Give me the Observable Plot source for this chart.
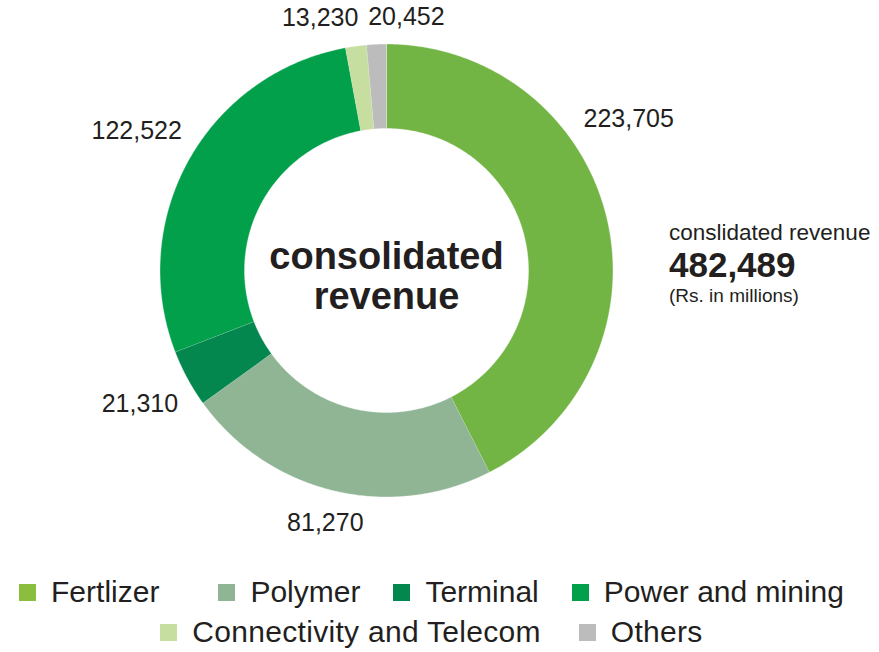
<!DOCTYPE html>
<html>
<head>
<meta charset="utf-8">
<script src="https://cdn.jsdelivr.net/npm/d3@7"></script>
<script src="https://cdn.jsdelivr.net/npm/@observablehq/plot@0.6"></script>
<style>
  html, body { margin: 0; padding: 0; background: #fff; }
  body { font-family: "Liberation Sans", Arial, sans-serif; color: #231f20; }
  #wrap { position: relative; width: 879px; height: 652px; overflow: hidden; }
  #chart { position: absolute; left: 0; top: 0; }
  .note { position: absolute; left: 669px; white-space: nowrap; line-height: 1; color: #231f20; }
  .legend-row { position: absolute; left: 0; width: 863px; display: flex; justify-content: center;
                font-size: 30px; line-height: 30px; color: #231f20; }
  .item { display: flex; align-items: center; margin-right: 33px; }
  .item:last-child { margin-right: 0; }
  .item.wide { margin-right: 59px; }
  .row2 .item { margin-right: 38px; }
  .row2 .item:last-child { margin-right: 0; }
  .row2 span.tx { letter-spacing: 0.3px; }
  .sw { width: 17px; height: 17px; margin-right: 15px; flex: none; }
</style>
</head>
<body>
<div id="wrap"><div id="chart"></div></div>
<script>
// ---------------- data ----------------
const segments = ["Fertlizer", "Polymer", "Terminal", "Power and mining", "Connectivity and Telecom", "Others"];
const revenue  = [223705, 81270, 21310, 122522, 13230, 20452];          // Rs. in millions (labels)
const arcShare = [42.5, 22.55, 4.1, 27.95, 1.5, 1.4];                    // share of the ring as drawn (%)
const colors   = ["#72b545", "#8fb594", "#03874f", "#02a04b", "#c6de9f", "#bcbcbc"];
const legendColors = ["#8bbe3f", "#8fb594", "#03874f", "#02a04b", "#c6de9f", "#bcbcbc"];
const centerTitle = ["consolidated", "revenue"];
const noteTitle = "conslidated revenue";
const noteUnit  = "(Rs. in millions)";
const legendRows = [[0, 1, 2, 3], [4, 5]];

// ---------------- layout ----------------
const W = 879, H = 560;
const R = 226.5, cx = 386, cy = 270;     // ring centre and outer radius (px)
const innerRatio = 142 / 226.5;
const fmt = d3.format(",");
const labelFont = 25, labelGap = 16, labelPad = 6;

// slices (angles clockwise from 12 o'clock)
const shareTotal = d3.sum(arcShare);
let acc = 0;
const slices = segments.map((name, i) => {
  const a0 = acc / shareTotal * 360; acc += arcShare[i];
  const a1 = acc / shareTotal * 360;
  return {name, value: revenue[i], a0, a1, mid: (a0 + a1) / 2};
});

// ring polygons in unit coordinates
const rad = a => a * Math.PI / 180;
const ring = slices.flatMap(s => {
  const n = Math.max(2, Math.ceil((s.a1 - s.a0) / 0.5));
  const pts = [];
  for (let k = 0; k <= n; k++) {
    const a = rad(s.a0 + (s.a1 - s.a0) * k / n);
    pts.push({name: s.name, x: Math.sin(a), y: Math.cos(a)});
  }
  for (let k = n; k >= 0; k--) {
    const a = rad(s.a0 + (s.a1 - s.a0) * k / n);
    pts.push({name: s.name, x: innerRatio * Math.sin(a), y: innerRatio * Math.cos(a)});
  }
  return pts;
});

// value labels: mid-angle placement, then nudged apart to avoid overlaps
const ctx = document.createElement("canvas").getContext("2d");
ctx.font = `${labelFont}px "Liberation Sans"`;
const textH = 0.72 * labelFont;
const labels = slices.map(s => ({...s, ang: s.mid, text: fmt(s.value), w: ctx.measureText(fmt(s.value)).width}));
function place(l) {
  const t = rad(l.ang);
  const half = Math.abs(Math.sin(t)) * l.w / 2 + Math.abs(Math.cos(t)) * textH / 2;
  const d = R + labelGap + half;
  l.px = cx + d * Math.sin(t); l.py = cy - d * Math.cos(t);
  l.box = [l.px - l.w / 2, l.py - textH / 2, l.px + l.w / 2, l.py + textH / 2];
}
const overlap = (a, b, p) => a[0] < b[2] + p && b[0] < a[2] + p && a[1] < b[3] + p && b[1] < a[3] + p;
// side note block, kept clear by one block-height of white space above and below
const noteBlock = [669, 218, 879, 308];
const noteH = noteBlock[3] - noteBlock[1];
const noteZone = [noteBlock[0], noteBlock[1] - noteH, noteBlock[2], noteBlock[3] + noteH];
const noteAng = Math.atan2((noteBlock[0] + noteBlock[2]) / 2 - cx, cy - (noteBlock[1] + noteBlock[3]) / 2) * 180 / Math.PI;
for (let it = 0; it < 800; it++) {
  labels.forEach(place);
  let moved = false;
  for (let i = 0; i < labels.length; i++) {
    const a = labels[i], b = labels[(i + 1) % labels.length];
    if (overlap(a.box, b.box, labelPad)) { a.ang -= 0.5; b.ang += 0.5; moved = true; }
  }
  for (const l of labels) {
    if (overlap(l.box, noteZone, 0)) { l.ang += l.ang < noteAng ? -0.5 : 0.5; moved = true; }
  }
  if (!moved) break;
}
labels.forEach(place);
const labelData = labels.map(l => ({text: l.text, x: (l.px - cx) / R, y: (cy - l.py) / R}));

// ---------------- chart ----------------
const chart = Plot.plot({
  width: W, height: H,
  marginLeft: cx - R, marginRight: W - cx - R, marginTop: cy - R, marginBottom: H - cy - R,
  x: {domain: [-1, 1], axis: null},
  y: {domain: [-1, 1], axis: null},
  color: {domain: segments, range: colors},
  style: {fontFamily: '"Liberation Sans", Arial, sans-serif', overflow: "visible", background: "#fff"},
  marks: [
    Plot.line(ring, {x: "x", y: "y", z: "name", fill: "name", stroke: "#ffffff", strokeWidth: 0.6, strokeOpacity: 0.6, curve: "linear"}),
    Plot.text([centerTitle.join("\n")], {frameAnchor: "middle", fontSize: 38, fontWeight: "bold", lineHeight: 1.05,
      fill: "#231f20", dy: 6.1}),
    Plot.text(labelData, {x: "x", y: "y", text: "text", fontSize: labelFont, fill: "#231f20"})
  ]
});
document.getElementById("chart").appendChild(chart);

// ---------------- side note ----------------
const wrap = document.getElementById("wrap");
const total = d3.sum(revenue);
[[noteTitle, 22.5, "normal", 221.7], [fmt(total), 35, "bold", 247.1], [noteUnit, 19, "normal", 285.6]].forEach(([t, f, w, top]) => {
  const d = document.createElement("div");
  d.className = "note";
  d.textContent = t;
  d.style.fontSize = f + "px"; d.style.fontWeight = w; d.style.top = top + "px";
  wrap.appendChild(d);
});

// ---------------- legend ----------------
legendRows.forEach((row, r) => {
  const div = document.createElement("div");
  div.className = "legend-row" + (r === 1 ? " row2" : "");
  div.style.top = (577.3 + r * 40) + "px";
  row.forEach((i, j) => {
    const it = document.createElement("div");
    it.className = "item" + (r === 0 && j === 0 ? " wide" : "");
    const sw = document.createElement("span");
    sw.className = "sw"; sw.style.background = legendColors[i];
    const tx = document.createElement("span");
    tx.className = "tx";
    tx.textContent = segments[i];
    it.appendChild(sw); it.appendChild(tx);
    div.appendChild(it);
  });
  wrap.appendChild(div);
});
</script>
</body>
</html>
